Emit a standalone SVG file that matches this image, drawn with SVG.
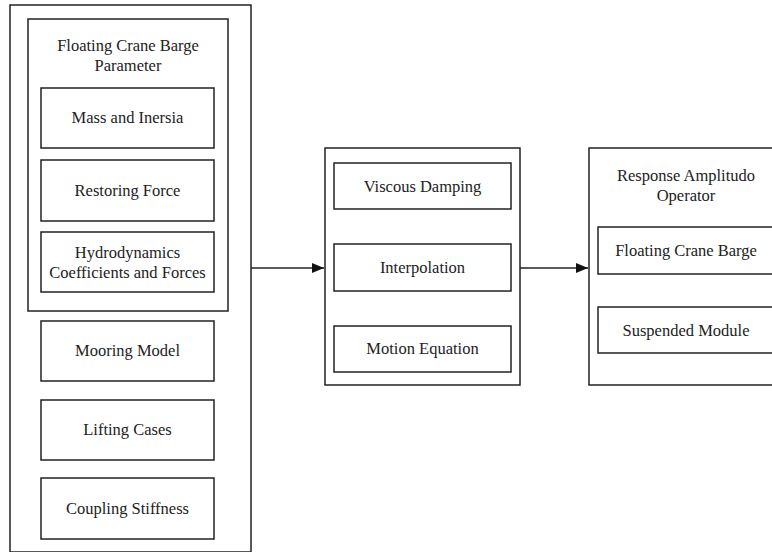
<svg xmlns="http://www.w3.org/2000/svg" width="772" height="552" viewBox="0 0 772 552">
<defs>
<style>
rect{fill:#fff;stroke:#222;stroke-width:1.5}
text{font-family:"Liberation Serif","Times New Roman",serif;font-size:16.5px;fill:#222;text-anchor:middle}
.c{stroke:#222;stroke-width:1.5;fill:none}
</style>
<marker id="ah" viewBox="0 0 12 10" refX="12" refY="5" markerWidth="12" markerHeight="10" markerUnits="userSpaceOnUse" orient="auto"><path d="M0,0 L12,5 L0,10 Z" fill="#111"/></marker>
</defs>
<rect x="0" y="0" width="772" height="552" style="fill:#fff;stroke:none"/>
<g id="input-group">
<rect x="10" y="5" width="241" height="547"/>
</g>
<g id="barge-parameter">
<rect x="28" y="19" width="200" height="292"/>
<text x="128" y="51">Floating Crane Barge</text>
<text x="128" y="71">Parameter</text>
</g>
<g id="mass-inersia"><rect x="41" y="88" width="173" height="60"/><text x="127.5" y="123">Mass and Inersia</text></g>
<g id="restoring-force"><rect x="41" y="160" width="173" height="61"/><text x="127.5" y="196">Restoring Force</text></g>
<g id="hydrodynamics"><rect x="41" y="232" width="173" height="60"/><text x="127.5" y="258">Hydrodynamics</text><text x="127.5" y="278">Coefficients and Forces</text></g>
<g id="mooring-model"><rect x="41" y="321" width="173" height="60"/><text x="127.5" y="356">Mooring Model</text></g>
<g id="lifting-cases"><rect x="41" y="400" width="173" height="60"/><text x="127.5" y="435">Lifting Cases</text></g>
<g id="coupling-stiffness"><rect x="41" y="478" width="173" height="61"/><text x="127.5" y="514">Coupling Stiffness</text></g>
<g id="process-group"><rect x="325" y="148" width="195" height="237"/></g>
<g id="viscous-damping"><rect x="334" y="163" width="177" height="46"/><text x="422.5" y="192">Viscous Damping</text></g>
<g id="interpolation"><rect x="334" y="244" width="177" height="47"/><text x="422.5" y="273">Interpolation</text></g>
<g id="motion-equation"><rect x="334" y="326" width="177" height="46"/><text x="422.5" y="354">Motion Equation</text></g>
<g id="rao-group">
<rect x="589" y="148" width="200" height="237"/>
<text x="686" y="181">Response Amplitudo</text>
<text x="686" y="201">Operator</text>
</g>
<g id="rao-barge"><rect x="598" y="227" width="190" height="47"/><text x="686" y="256">Floating Crane Barge</text></g>
<g id="rao-module"><rect x="598" y="307" width="190" height="46"/><text x="686" y="336">Suspended Module</text></g>
<g id="connectors">
<line class="c" x1="251" y1="268" x2="324" y2="268" marker-end="url(#ah)"/>
<line class="c" x1="520" y1="268" x2="588" y2="268" marker-end="url(#ah)"/>
</g>
</svg>
